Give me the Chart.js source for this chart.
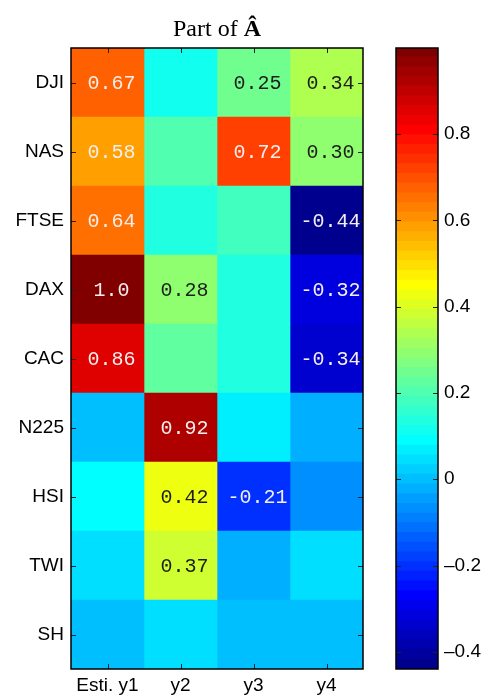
<!DOCTYPE html>
<html>
<head>
<meta charset="utf-8">
<script src="https://cdn.jsdelivr.net/npm/chart.js@4.4.1/dist/chart.umd.min.js"></script>
<style>
  html, body { margin: 0; padding: 0; background: #fff; }
  #wrap { position: relative; width: 487px; height: 698px; }
  #wrap canvas { position: absolute; left: 0; top: 0; }
</style>
</head>
<body>
<div id="wrap">
  <canvas id="heat" width="487" height="698" style="width:487px;height:698px"></canvas>
  <canvas id="cbar" width="487" height="698" style="width:487px;height:698px"></canvas>
</div>
<script>
// ============================================
// DATA
// ============================================
const rowNames = ['DJI', 'NAS', 'FTSE', 'DAX', 'CAC', 'N225', 'HSI', 'TWI', 'SH'];
const colNames = ['Esti. y1', 'y2', 'y3', 'y4'];

// cell values, one array per column (top row first)
const estY1 = [0.67, 0.58, 0.64, 1.0, 0.86, 0.00, 0.09, 0.045, 0.00];
const estY2 = [0.12, 0.20, 0.14, 0.28, 0.22, 0.92, 0.42, 0.37, 0.045];
const estY3 = [0.25, 0.72, 0.18, 0.14, 0.14, 0.065, -0.21, -0.02, 0.00];
const estY4 = [0.34, 0.30, -0.44, -0.32, -0.34, -0.02, -0.07, 0.045, 0.00];

// printed numbers (empty = no text in the cell)
const textY1 = ['0.67', '0.58', '0.64', '1.0', '0.86', '', '', '', ''];
const textY2 = ['', '', '', '0.28', '', '0.92', '0.42', '0.37', ''];
const textY3 = ['0.25', '0.72', '', '', '', '', '-0.21', '', ''];
const textY4 = ['0.34', '0.30', '-0.44', '-0.32', '-0.34', '', '', '', ''];

const colorMin = -0.44;
const colorMax = 1.0;
const colorbarTicks = [-0.4, -0.2, 0, 0.2, 0.4, 0.6, 0.8];

const titleMain = 'Part of ';
const titleSymbol = '\u00C2';

const columns = [estY1, estY2, estY3, estY4];
const columnTexts = [textY1, textY2, textY3, textY4];

// ============================================
// JET COLORMAP (64 levels, like MATLAB)
// ============================================
const LEVELS = 64;
function jetByIndex(i) { // i: 1..64
  const u = k => (k < 1 || k > 47) ? 0 : k <= 16 ? k / 16 : k <= 31 ? 1 : (48 - k) / 16;
  const r = u(i - 24), g = u(i - 8), b = i <= 39 ? u(i + 8) : 0;
  return `rgb(${Math.round(r * 255)},${Math.round(g * 255)},${Math.round(b * 255)})`;
}
function jetColor(v) {
  let i = Math.floor((v - colorMin) / (colorMax - colorMin) * LEVELS);
  i = Math.max(0, Math.min(LEVELS - 1, i));
  return jetByIndex(i + 1);
}

const SANS = '"Liberation Sans", Arial, sans-serif';
const MONO = '"Liberation Mono", "Courier New", monospace';
const SERIF = '"Liberation Serif", "Times New Roman", serif';

// ============================================
// PLUGINS
// ============================================
const cellLabels = {
  id: 'cellLabels',
  afterDatasetsDraw(chart) {
    const ctx = chart.ctx;
    ctx.save();
    ctx.font = `20px ${MONO}`;
    ctx.textAlign = 'center';
    ctx.textBaseline = 'middle';
    chart.data.datasets.forEach((ds, c) => {
      const meta = chart.getDatasetMeta(c);
      meta.data.forEach((bar, r) => {
        const txt = columnTexts[c][r];
        if (!txt) return;
        const p = bar.getProps(['x', 'y', 'base'], true);
        const v = columns[c][r];
        ctx.fillStyle = (v > 0.5 || v < 0) ? '#f4eeee' : '#1e1e1e';
        ctx.fillText(txt, (p.x + p.base) / 2 + 4, p.y + 1);
      });
    });
    ctx.restore();
  }
};

function drawFrame(ctx, a) {
  ctx.strokeStyle = '#000';
  ctx.lineWidth = 1.5;
  ctx.strokeRect(a.left, a.top, a.right - a.left, a.bottom - a.top);
}

const heatFrame = {
  id: 'heatFrame',
  afterDraw(chart) {
    const { ctx, chartArea: a, scales } = chart;
    ctx.save();
    ctx.strokeStyle = '#222';
    ctx.lineWidth = 1;
    const len = 5;
    scales.x.ticks.forEach(t => {
      const x = Math.round(scales.x.getPixelForValue(t.value)) + 0.5;
      ctx.beginPath();
      ctx.moveTo(x, a.top); ctx.lineTo(x, a.top + len);
      ctx.moveTo(x, a.bottom); ctx.lineTo(x, a.bottom - len);
      ctx.stroke();
    });
    rowNames.forEach((_, i) => {
      const y = Math.round(scales.y.getPixelForValue(i)) + 0.5;
      ctx.beginPath();
      ctx.moveTo(a.left, y); ctx.lineTo(a.left + len, y);
      ctx.moveTo(a.right, y); ctx.lineTo(a.right - len, y);
      ctx.stroke();
    });
    drawFrame(ctx, a);

    // title: "Part of" + bold A-hat
    ctx.fillStyle = '#000';
    ctx.textBaseline = 'alphabetic';
    ctx.textAlign = 'left';
    ctx.font = `24px ${SERIF}`;
    const w1 = ctx.measureText(titleMain).width;
    ctx.font = `bold 24px ${SERIF}`;
    const w2 = ctx.measureText(titleSymbol).width;
    const x0 = (a.left + a.right) / 2 - (w1 + w2) / 2;
    ctx.font = `24px ${SERIF}`;
    ctx.fillText(titleMain, x0, 36);
    ctx.font = `bold 24px ${SERIF}`;
    ctx.fillText(titleSymbol, x0 + w1, 36);
    ctx.restore();
  }
};

const cbarFrame = {
  id: 'cbarFrame',
  afterDraw(chart) {
    const { ctx, chartArea: a, scales } = chart;
    ctx.save();
    ctx.strokeStyle = '#222';
    ctx.lineWidth = 1;
    const len = 5;
    colorbarTicks.forEach(v => {
      const y = Math.round(scales.y.getPixelForValue(v)) + 0.5;
      ctx.beginPath();
      ctx.moveTo(a.left, y); ctx.lineTo(a.left + len, y);
      ctx.moveTo(a.right, y); ctx.lineTo(a.right - len, y);
      ctx.stroke();
    });
    drawFrame(ctx, a);
    ctx.restore();
  }
};

// ============================================
// HEATMAP
// ============================================
const heatDatasets = columns.map((vals, c) => ({
  label: colNames[c],
  data: vals.map(() => [c - 0.5, c + 0.5]),
  backgroundColor: vals.map(v => jetColor(v)),
  borderWidth: 0,
  barPercentage: 1,
  categoryPercentage: 1,
  grouped: false
}));

new Chart(document.getElementById('heat'), {
  type: 'bar',
  data: { labels: rowNames, datasets: heatDatasets },
  options: {
    indexAxis: 'y',
    responsive: false,
    animation: false,
    events: [],
    layout: { padding: { left: 0, right: 124, top: 48, bottom: 0 } },
    plugins: { legend: { display: false }, tooltip: { enabled: false }, title: { display: false } },
    scales: {
      y: {
        type: 'category',
        grid: { display: false, drawTicks: false },
        border: { display: false },
        ticks: { color: '#000', font: { family: SANS, size: 19 }, padding: 7 },
        afterFit: s => { s.width = 71; }
      },
      x: {
        type: 'linear',
        min: -0.5,
        max: 3.5,
        grid: { display: false, drawTicks: false },
        border: { display: false },
        afterBuildTicks: s => { s.ticks = colNames.map((_, i) => ({ value: i })); },
        ticks: {
          color: '#000',
          font: { family: SANS, size: 19 },
          padding: 5,
          maxRotation: 0,
          autoSkip: false,
          callback: (v, i) => colNames[i]
        },
        afterFit: s => { s.height = 29; }
      }
    }
  },
  plugins: [cellLabels, heatFrame]
});

// ============================================
// COLORBAR
// ============================================
const bandStep = (colorMax - colorMin) / LEVELS;
const bandDatasets = [];
for (let k = 0; k < LEVELS; k++) {
  const lo = colorMin + k * bandStep;
  bandDatasets.push({
    data: [[lo, lo + bandStep * 1.08]],
    backgroundColor: jetByIndex(k + 1),
    borderWidth: 0,
    barPercentage: 1,
    categoryPercentage: 1,
    grouped: false
  });
}

new Chart(document.getElementById('cbar'), {
  type: 'bar',
  data: { labels: [''], datasets: bandDatasets },
  options: {
    responsive: false,
    animation: false,
    events: [],
    layout: { padding: { left: 396, right: 0, top: 48, bottom: 29 } },
    plugins: { legend: { display: false }, tooltip: { enabled: false } },
    scales: {
      x: { display: false },
      y: {
        position: 'right',
        min: colorMin,
        max: colorMax,
        grid: { display: false, drawTicks: false },
        border: { display: false },
        afterBuildTicks: s => { s.ticks = colorbarTicks.map(v => ({ value: v })); },
        ticks: {
          color: '#000',
          font: { family: SANS, size: 19 },
          padding: 6,
          callback: v => v < 0 ? '\u2013' + Math.abs(v) : String(v)
        },
        afterFit: s => { s.width = 49; }
      }
    }
  },
  plugins: [cbarFrame]
});
</script>
</body>
</html>
